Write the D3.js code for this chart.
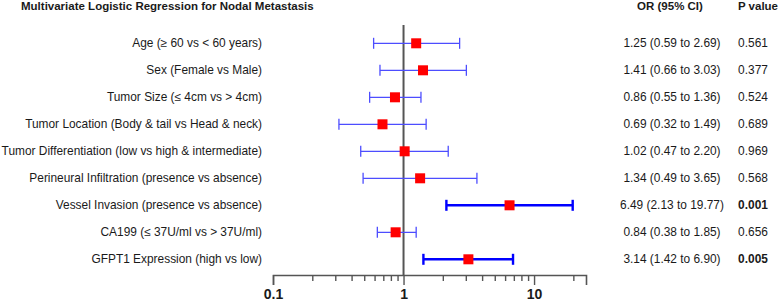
<!DOCTYPE html>
<html>
<head>
<meta charset="utf-8">
<script src="https://cdn.jsdelivr.net/npm/d3@7"></script>
<style>
  body { margin: 0; background: #fff; }
  text { font-family: "Liberation Sans", Arial, sans-serif; fill: #1a1a1a; }
</style>
</head>
<body>
<div id="chart"></div>
<script>
const labels = [
  "Age (≥ 60 vs < 60 years)",
  "Sex (Female vs Male)",
  "Tumor Size (≤ 4cm vs > 4cm)",
  "Tumor Location (Body & tail vs Head & neck)",
  "Tumor Differentiation (low vs high & intermediate)",
  "Perineural Infiltration (presence vs absence)",
  "Vessel Invasion (presence vs absence)",
  "CA199 (≤ 37U/ml vs > 37U/ml)",
  "GFPT1 Expression (high vs low)"
];
// plotted positions (as drawn in the figure)
const orVals = [1.25, 1.41, 0.86, 0.69, 1.02, 1.34, 6.49, 0.87, 3.14];
const loVals = [0.59, 0.66, 0.55, 0.32, 0.47, 0.49, 2.13, 0.63, 1.42];
const hiVals = [2.69, 3.03, 1.36, 1.49, 2.20, 3.65, 19.77, 1.25, 6.90];
const ciText = [
  "1.25 (0.59 to 2.69)", "1.41 (0.66 to 3.03)", "0.86 (0.55 to 1.36)",
  "0.69 (0.32 to 1.49)", "1.02 (0.47 to 2.20)", "1.34 (0.49 to 3.65)",
  "6.49 (2.13 to 19.77)", "0.84 (0.38 to 1.85)", "3.14 (1.42 to 6.90)"
];
const pVals = ["0.561", "0.377", "0.524", "0.689", "0.969", "0.568", "0.001", "0.656", "0.005"];
const significant = [false, false, false, false, false, false, true, false, true];
const majorTicks = [0.1, 1, 10];
const minorTicks = [0.2, 0.3, 0.4, 0.5, 0.6, 0.7, 0.8, 0.9, 2, 3, 4, 5, 6, 7, 8, 9, 20];

const width = 778, height = 302;
const rows = labels.map((d, i) => ({
  label: d, or: orVals[i], lo: loVals[i], hi: hiVals[i],
  ci: ciText[i], p: pVals[i], sig: significant[i]
}));

const svg = d3.select("#chart").append("svg")
  .attr("width", width)
  .attr("height", height);

const x = d3.scaleLog().domain([0.1, 25]).range([273, 586]);
const y = d3.scalePoint().domain(labels).range([43.3, 259.3]);
const axisY = 275;

// title + column headers
svg.append("text")
  .attr("x", 21).attr("y", 10)
  .style("font-size", "11.5px").style("font-weight", "bold")
  .text("Multivariate Logistic Regression for Nodal Metastasis");
svg.append("text")
  .attr("x", 670).attr("y", 10).attr("text-anchor", "middle")
  .style("font-size", "11.5px").style("font-weight", "bold")
  .text("OR (95% CI)");
svg.append("text")
  .attr("x", 758).attr("y", 10).attr("text-anchor", "middle")
  .style("font-size", "11.5px").style("font-weight", "bold")
  .text("P value");

// reference line at OR = 1
svg.append("line")
  .attr("x1", x(1)).attr("x2", x(1))
  .attr("y1", 25).attr("y2", axisY)
  .attr("stroke", "#555").attr("stroke-width", 2);

// axis
const allTicks = majorTicks.concat(minorTicks).sort(d3.ascending);
const axis = svg.append("g")
  .attr("transform", `translate(0,${axisY})`)
  .call(d3.axisBottom(x)
    .tickValues(allTicks)
    .tickSizeOuter(0)
    .tickSize(10)
    .tickPadding(4)
    .tickFormat(d => majorTicks.includes(d) ? d3.format("~g")(d) : ""));
axis.select(".domain").attr("stroke", "#555").attr("stroke-width", 1.6);
axis.selectAll(".tick line")
  .attr("stroke", "#555").attr("stroke-width", 1.4)
  .attr("y2", d => majorTicks.includes(d) ? 10 : 6);
axis.selectAll(".tick text")
  .style("font-family", "'Liberation Sans', Arial, sans-serif")
  .style("font-size", "14px").style("font-weight", "bold")
  .attr("fill", "#1a1a1a");

// row labels
svg.append("g").selectAll("text")
  .data(rows).join("text")
  .attr("x", 262).attr("y", d => y(d.label))
  .attr("dy", "0.35em").attr("text-anchor", "end")
  .style("font-size", "11.9px")
  .text(d => d.label);

// error bars
const bars = svg.append("g").selectAll("g")
  .data(rows).join("g")
  .attr("stroke", d => d.sig ? "#0000ff" : "#4d4dff")
  .attr("stroke-width", d => d.sig ? 2.4 : 1.3);
bars.append("line")
  .attr("x1", d => x(d.lo)).attr("x2", d => x(d.hi))
  .attr("y1", d => y(d.label)).attr("y2", d => y(d.label));
bars.append("line")
  .attr("x1", d => x(d.lo)).attr("x2", d => x(d.lo))
  .attr("y1", d => y(d.label) - 5.5).attr("y2", d => y(d.label) + 5.5);
bars.append("line")
  .attr("x1", d => x(d.hi)).attr("x2", d => x(d.hi))
  .attr("y1", d => y(d.label) - 5.5).attr("y2", d => y(d.label) + 5.5);

// OR squares
const sq = 10;
svg.append("g").selectAll("rect")
  .data(rows).join("rect")
  .attr("x", d => x(d.or) - sq / 2)
  .attr("y", d => y(d.label) - sq / 2)
  .attr("width", sq).attr("height", sq)
  .attr("fill", "#ff0000");

// OR (95% CI) and P value columns
svg.append("g").selectAll("text")
  .data(rows).join("text")
  .attr("x", 672).attr("y", d => y(d.label))
  .attr("dy", "0.35em").attr("text-anchor", "middle")
  .style("font-size", "11.9px")
  .text(d => d.ci);
svg.append("g").selectAll("text")
  .data(rows).join("text")
  .attr("x", 753).attr("y", d => y(d.label))
  .attr("dy", "0.35em").attr("text-anchor", "middle")
  .style("font-size", "11.9px")
  .style("font-weight", d => d.sig ? "bold" : "normal")
  .text(d => d.p);
</script>
</body>
</html>
